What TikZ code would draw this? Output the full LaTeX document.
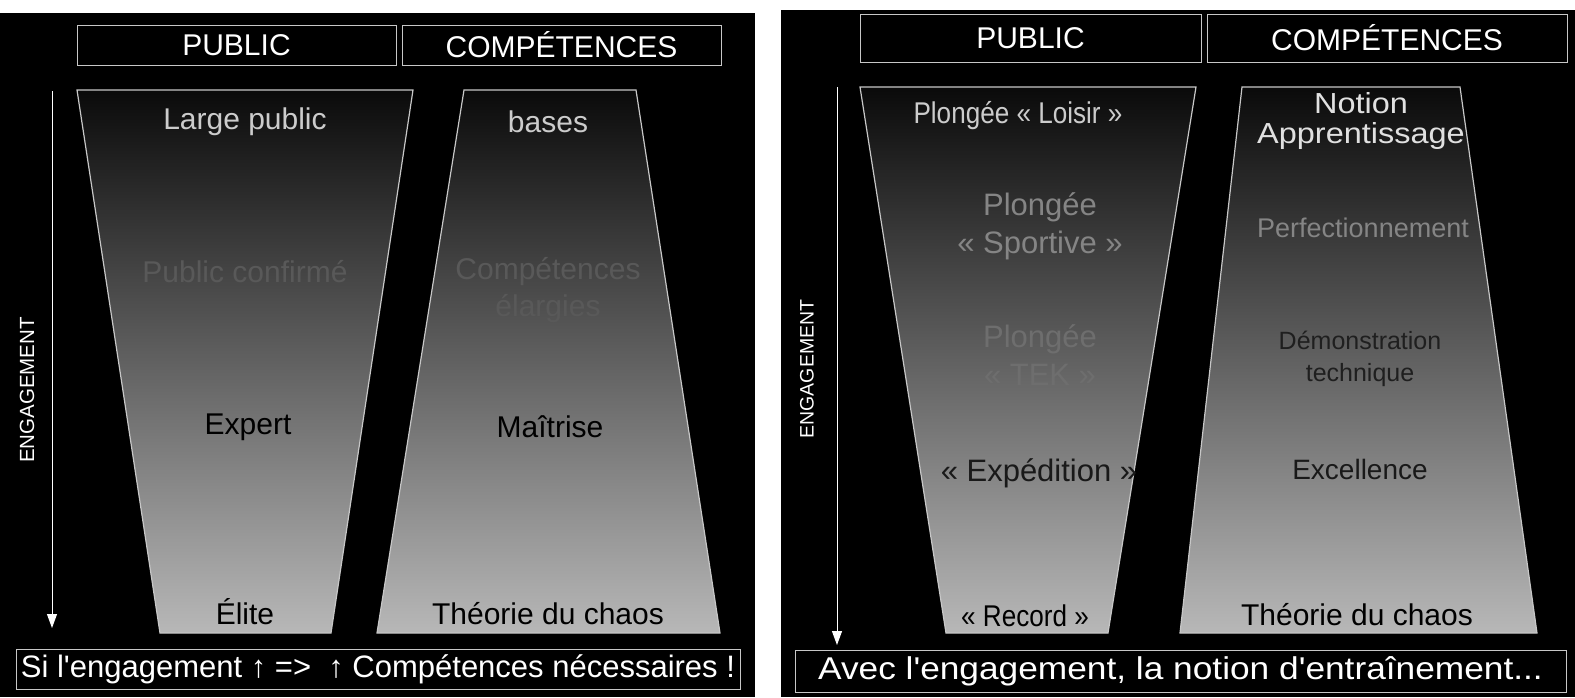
\documentclass[tikz,border=0pt]{standalone}
\usepackage{fontspec}
\setmainfont{Liberation Sans}[Ligatures=TeXOff]
\newfontfamily\narrowsf{Liberation Sans}[Ligatures=TeXOff,FakeStretch=0.87]
\newfontfamily\widesf{Liberation Sans}[Ligatures=TeXOff,FakeStretch=1.12]
\usetikzlibrary{arrows.meta}

\definecolor{rim}{gray}{0.78}
\definecolor{tlight}{gray}{0.80}
\definecolor{tmid}{gray}{0.52}
\definecolor{tdark}{gray}{0.35}

\newcommand{\fsz}[2]{\fontsize{#1}{#2}\selectfont}

\tikzset{
  headbox/.style={draw=rim,line width=1pt,fill=black,text=white,minimum height=40pt,inner sep=0pt,font=\fsz{30}{36}},
  footbox/.style={draw=rim,line width=1pt,fill=black,text=white,minimum height=40pt,inner sep=0pt,font=\fsz{31}{36}},
  funnel/.style={draw=rim,line width=1.2pt,top color=black!96,middle color=black!78,bottom color=black!28},
  lbl/.style={align=center,inner sep=0pt,font=\fsz{30}{37}},
  small/.style={align=center,inner sep=0pt,font=\fsz{27}{30}},
  axis/.style={draw=white,line width=1pt,-{Triangle[width=10pt,length=14pt]}},
  axislbl/.style={text=white,rotate=90,font=\fsz{20.5}{24}}
}

\begin{document}
\begin{tikzpicture}[x=1pt,y=-1pt]
  \useasboundingbox[fill=white] (0,0) rectangle (1575,697);
  \fill[black] (0,13) rectangle (755,697);
  \fill[black] (781,10) rectangle (1575,697);

  % left slide
  \node[headbox,minimum width=319pt] (pub1) at (236.5,45) {PUBLIC};
  \node[headbox,minimum width=319pt] (comp1) at (561.5,45) {COMPÉTENCES};

  \coordinate (a1) at (52,91);
  \coordinate (b1) at (52,628);
  \draw[axis] (a1) -- (b1);
  \node[axislbl] (eng1) at (27,390) {ENGAGEMENT};

  \draw[funnel] (77,90) -- (413,90) -- (331,633) -- (160,633) -- cycle;
  \draw[funnel] (464,90) -- (636,90) -- (720,633) -- (377,633) -- cycle;

  \node[lbl,text=tlight] (lp) at (245,122) {Large public};
  \node[lbl,text=tdark] (pc) at (245,272) {Public confirmé};
  \node[lbl,text=black] (ex) at (248,427) {Expert};
  \node[lbl,text=black] (el) at (245,612) {Élite};

  \node[lbl,text=tlight] (ba) at (548,122) {bases};
  \node[lbl,text=tdark] (ce) at (548,290) {Compétences\\élargies};
  \node[lbl,text=black] (ma) at (550,427) {Maîtrise};
  \node[lbl,text=black] (tc1) at (548,614) {Théorie du chaos};

  \node[footbox,minimum width=724pt] (msg1) at (378,669.5) {Si l'engagement ↑ =>\ \ ↑ Compétences nécessaires !};

  % right slide
  \node[headbox,minimum width=341pt,minimum height=48pt] (pub2) at (1030.5,38) {PUBLIC};
  \node[headbox,minimum width=360pt,minimum height=48pt] (comp2) at (1387,38) {COMPÉTENCES};

  \coordinate (a2) at (837,87);
  \coordinate (b2) at (837,645);
  \draw[axis] (a2) -- (b2);
  \node[axislbl,font=\fsz{19.5}{24}] (eng2) at (807,369) {ENGAGEMENT};

  \draw[funnel] (860,87) -- (1196,87) -- (1108,633) -- (946,633) -- cycle;
  \draw[funnel] (1242,87) -- (1460,87) -- (1537,633) -- (1180,633) -- cycle;

  \node[lbl,font=\narrowsf\fsz{30}{32},text=tlight] (lo) at (1018,116) {Plongée « Loisir »};
  \node[lbl,font=\fsz{31}{38},text=tmid] (sp) at (1040,226) {Plongée\\« Sportive »};
  \node[lbl,font=\fsz{31}{38},text=black!57] (tek) at (1040,355) {Plongée\\« TEK »};
  \node[lbl,font=\fsz{31}{38},text=black!90] (xp) at (1039,473) {« Expédition »};
  \node[lbl,font=\narrowsf\fsz{30}{32},text=black] (rec) at (1025,616) {« Record »};

  \node[small,font=\widesf\fsz{29}{30},text=white!88!black] (na) at (1361,121) {Notion\\Apprentissage};
  \node[small,text=tmid] (pf) at (1363,228) {Perfectionnement};
  \node[small,font=\fsz{25}{32},text=black!88] (dt) at (1360,359) {Démonstration\\technique};
  \node[lbl,font=\fsz{28}{34},text=black!90] (xc) at (1360,469) {Excellence};
  \node[lbl,text=black] (tc2) at (1357,615) {Théorie du chaos};

  \node[footbox,minimum width=771pt,minimum height=42pt,font=\widesf\fsz{31.5}{38}] (msg2) at (1180.5,671) {Avec l'engagement, la notion d'entraînement...};
\end{tikzpicture}
\end{document}
